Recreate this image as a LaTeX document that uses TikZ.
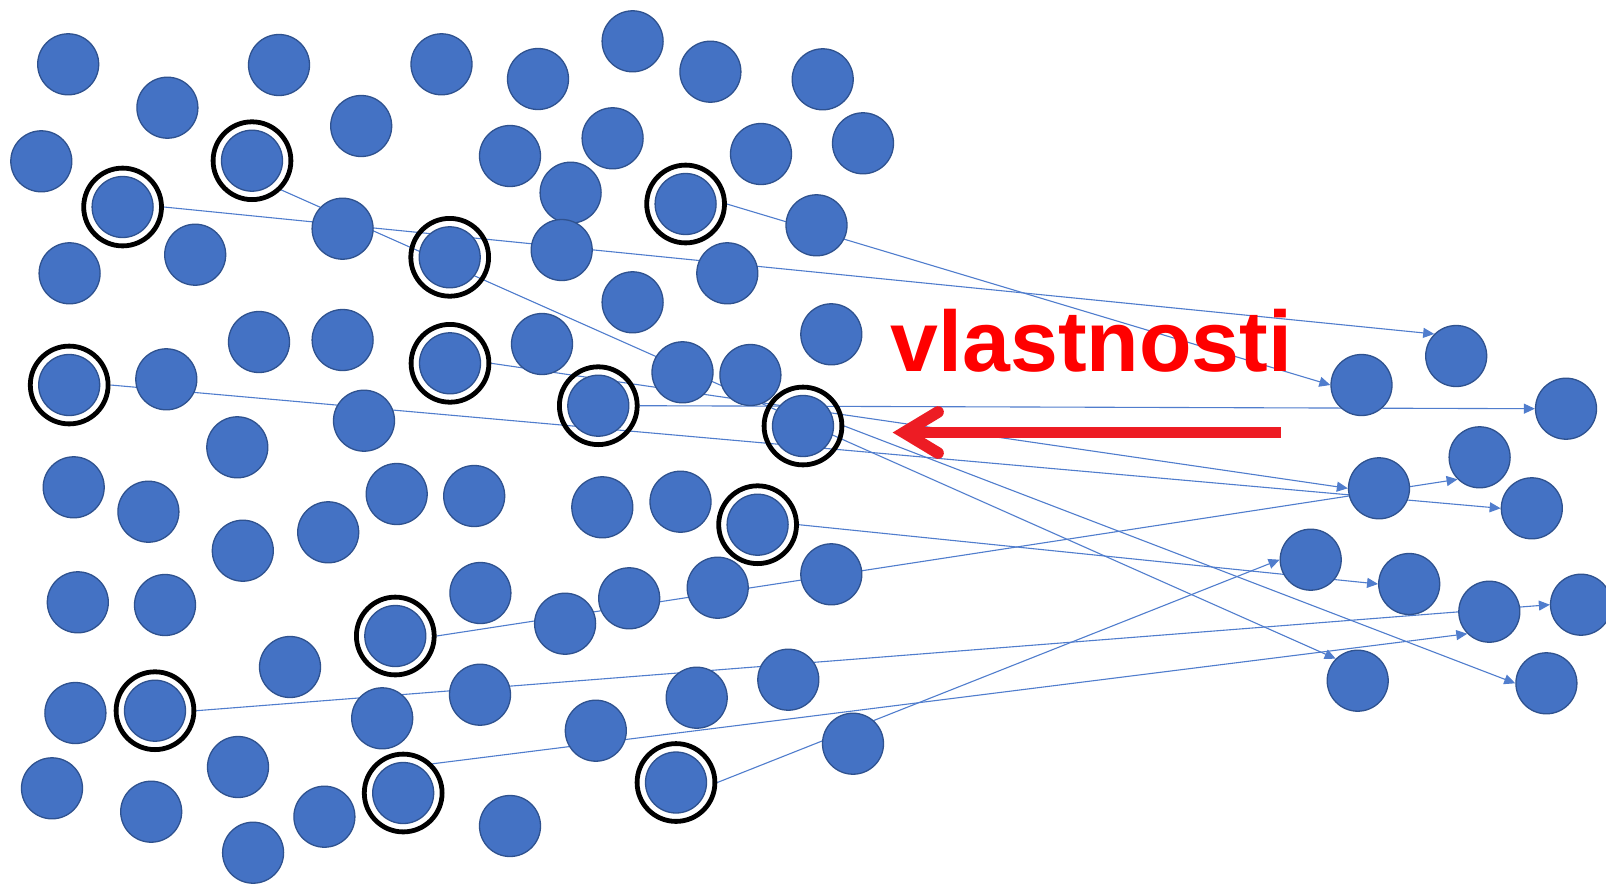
\documentclass[tikz,border=0pt]{standalone}
\usepackage{fontspec}
\setmainfont{Liberation Sans}
\usetikzlibrary{arrows.meta}
\definecolor{blueF}{RGB}{68,114,196}
\definecolor{blueB}{RGB}{47,82,143}
\definecolor{lineC}{RGB}{80,125,205}
\definecolor{redA}{RGB}{237,28,36}
\definecolor{redT}{RGB}{255,0,0}
\pgfdeclarelayer{back}
\pgfdeclarelayer{bg}
\pgfsetlayers{back,bg,main}
\tikzset{
  disk/.style={circle, fill=blueF, draw=blueB, line width=1.3pt, minimum size=61pt, inner sep=0pt},
  ringnode/.style={circle, draw=black, line width=4.8pt, minimum size=77.8pt, inner sep=0pt},
  conn/.style={draw=lineC, line width=1.1pt, -{Triangle[length=11pt,width=10pt]}},
  redarrow/.style={draw=redA, line width=11.7pt},
}
\begin{document}
\begin{tikzpicture}[x=1pt,y=-1pt]
\begin{pgfonlayer}{back}
\fill[white] (0,0) rectangle (1606,884);
\end{pgfonlayer}
\useasboundingbox (0,0) rectangle (1606,884);
% plain disks, left cluster
\foreach \x/\y [count=\i] in {
 68.2/64.3, 279/65, 441.5/64.3, 538/79, 632.6/41.3, 710.4/71.7, 822.7/79.3,
 167.4/107.7, 361.2/126, 612.6/138.3, 863/143.3, 761/154,
 41.3/161.3, 510/156, 570.6/192.7,
 342.6/228.7, 816.5/225.3, 195.2/254.7, 561.7/250, 69.6/273.3, 727.3/273.3, 632.6/302.3,
 259/342, 342.6/340, 542/344, 831.3/334.3,
 166.3/379.3, 682.5/372.3, 750.4/375, 364/420.7, 237.3/447.3,
 73.7/487.3, 148.4/511.7, 242.8/550.7, 328.2/532.3, 396.7/494, 474.2/496,
 602.3/507.3, 680.5/501.7, 831.3/574.3, 717.7/587.7, 629.2/598.3, 565.1/623.7,
 77.8/602.3, 165/605, 480.4/593, 290/667,
 75.4/713, 382.2/718.3, 480/694.7, 788.3/679.7, 696.7/697.7, 595.8/730.7, 853/743.7,
 238/767, 52/788.3, 151.2/811.7, 324.4/816.7, 253.1/852.7, 510/826}
 { \node[disk] (c\i) at (\x,\y) {}; }
% ringed disks
\foreach \x/\y [count=\i] in {
 252/160.7, 122.6/207, 449.7/257.3, 685.6/204, 69.2/385, 450/363.3, 598.3/405.7,
 803/426, 757.6/524.7, 395.3/636, 155/710.7, 403.2/793, 676/782.5}
 { \node[disk] (d\i) at (\x,\y) {};
   \node[ringnode] (r\i) at (\x,\y) {}; }
% target disks, right cluster
\node[disk] (tA) at (1357.7,680.7) {};
\node[disk] (tB) at (1456.2,356) {};
\node[disk] (tC) at (1361.5,385) {};
\node[disk] (tD) at (1531.8,508.3) {};
\node[disk] (tE) at (1479.6,457.3) {};
\node[disk] (tF) at (1566,408.7) {};
\node[disk] (tG) at (1581,604.7) {};
\node[disk] (tH) at (1489.3,611.7) {};
\node[disk] (tI) at (1379,488.3) {};
\node[disk] (tJ) at (1546.4,683.3) {};
\node[disk] (tK) at (1409.2,584) {};
\node[disk] (tL) at (1310.7,559.7) {};
% connectors behind the disks
\begin{pgfonlayer}{bg}
\draw[conn] (r1.-45) -- (tA.135);
\draw[conn] (r2.east) -- (tB.135);
\draw[conn] (r4.east) -- (tC.west);
\draw[conn] (r5.east) -- (tD.west);
\draw[conn] (r10.east) -- (tE.-135);
\draw[conn] (r7.east) -- (tF.west);
\draw[conn] (r11.east) -- (tG.west);
\draw[conn] (r12.45) -- (tH.-135);
\draw[conn] (r6.east) -- (tI.west);
\draw[conn] (r8.east) -- (tJ.west);
\draw[conn] (r9.east) -- (tK.west);
\draw[conn] (r13.east) -- (tL.west);
\end{pgfonlayer}
% label and red arrow
\node[anchor=base west, inner sep=0pt, text=redT, font=\fontsize{86}{90}\selectfont\bfseries] (lbl) at (890.5,371.7) {vlastnosti};
\coordinate (aR) at (1280.7,432.5);
\coordinate (aT) at (904,432.5);
\coordinate (aU) at (938,412);
\coordinate (aL) at (938,453);
\draw[redarrow] (aR) -- (aT);
\draw[redarrow, line cap=round, line join=miter] (aU) -- (aT) -- (aL);
\end{tikzpicture}
\end{document}
